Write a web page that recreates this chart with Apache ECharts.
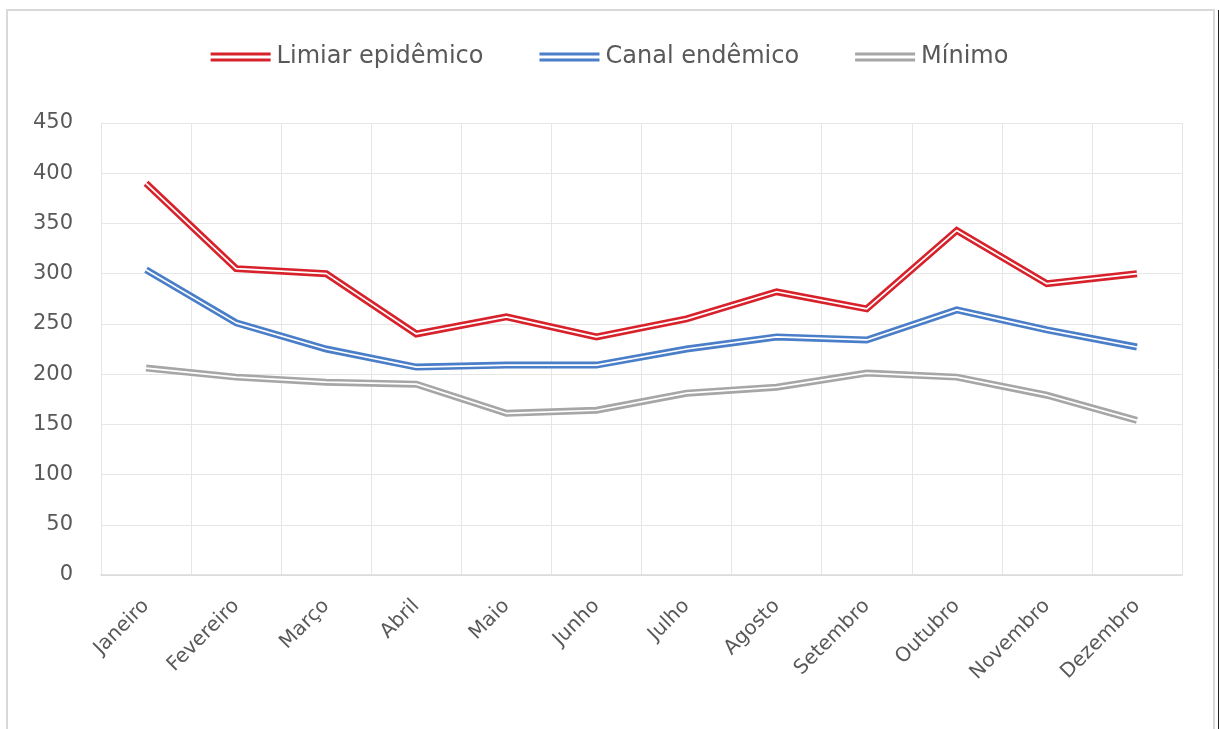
<!DOCTYPE html>
<html>
<head>
<meta charset="utf-8">
<script src="https://cdn.jsdelivr.net/npm/echarts@6/dist/echarts.min.js"></script>
<style>
html,body{margin:0;padding:0;background:#fff;}
#chart{width:1219px;height:729px;}
</style>
</head>
<body>
<div id="chart"></div>
<script>
const categories = ['Janeiro','Fevereiro','Março','Abril','Maio','Junho','Julho','Agosto','Setembro','Outubro','Novembro','Dezembro'];
const limiarEpidemico = [390, 305, 300, 240, 257, 237, 255, 282, 265, 343, 290, 300];
const canalEndemico = [304, 251, 225, 207, 209, 209, 225, 237, 234, 264, 244, 227];
const minimo = [206, 197, 192, 190, 161, 164, 181, 187, 201, 197, 179, 154];
const seriesNames = ['Limiar epidêmico', 'Canal endêmico', 'Mínimo'];
const seriesColors = ['#d8222b', '#4a7ec8', '#a6a6a6'];
const yTicks = {min: 0, max: 450, interval: 50};

const dataSets = [limiarEpidemico, canalEndemico, minimo];
const FONT = 'DejaVu Sans';
const series = [];
dataSets.forEach((d, i) => {
  series.push({
    name: seriesNames[i], type: 'line', data: d, symbol: 'none',
    lineStyle: {color: seriesColors[i], width: 7, join: 'miter'},
    itemStyle: {color: seriesColors[i]}, z: 2 + i * 2, animation: false
  });
  series.push({
    name: seriesNames[i] + '_inner', type: 'line', data: d, symbol: 'none', silent: true,
    lineStyle: {color: '#ffffff', width: 1.7}, z: 3 + i * 2, animation: false, tooltip: {show: false}
  });
});

const chart = echarts.init(document.getElementById('chart'), null, {renderer: 'canvas'});
chart.setOption({
  animation: false,
  backgroundColor: '#ffffff',
  graphic: [
    {type: 'rect', shape: {x: 7, y: 10, width: 1207, height: 740}, style: {fill: 'none', stroke: '#d9d9d9', lineWidth: 2}, silent: true},
    {type: 'line', shape: {x1: 1218.5, y1: 10, x2: 1218.5, y2: 729}, style: {stroke: '#222', lineWidth: 1}, silent: true}
  ],
  legend: {
    data: seriesNames,
    top: 40,
    left: 'center',
    itemWidth: 62,
    itemHeight: 9,
    itemGap: 56,
    icon: 'path://M0,0L60,0L60,3L0,3Z M0,6L60,6L60,9L0,9Z',
    textStyle: {fontFamily: FONT, fontSize: 24, color: '#595959'}
  },
  grid: {left: 101, right: 37, top: 123, bottom: 154, containLabel: false},
  xAxis: {
    type: 'category', data: categories, boundaryGap: true,
    axisLine: {lineStyle: {color: '#d9d9d9', width: 1.5}},
    axisTick: {show: false},
    splitLine: {show: true, lineStyle: {color: '#e6e6e6', width: 1}},
    axisLabel: {rotate: 45, interval: 0, margin: 28, fontFamily: FONT, fontSize: 20, color: '#595959'}
  },
  yAxis: {
    type: 'value', min: yTicks.min, max: yTicks.max, interval: yTicks.interval,
    axisLine: {show: false}, axisTick: {show: false},
    splitLine: {lineStyle: {color: '#e6e6e6', width: 1}},
    axisLabel: {margin: 28, fontFamily: FONT, fontSize: 21, color: '#595959'}
  },
  series: series
});
</script>
</body>
</html>
